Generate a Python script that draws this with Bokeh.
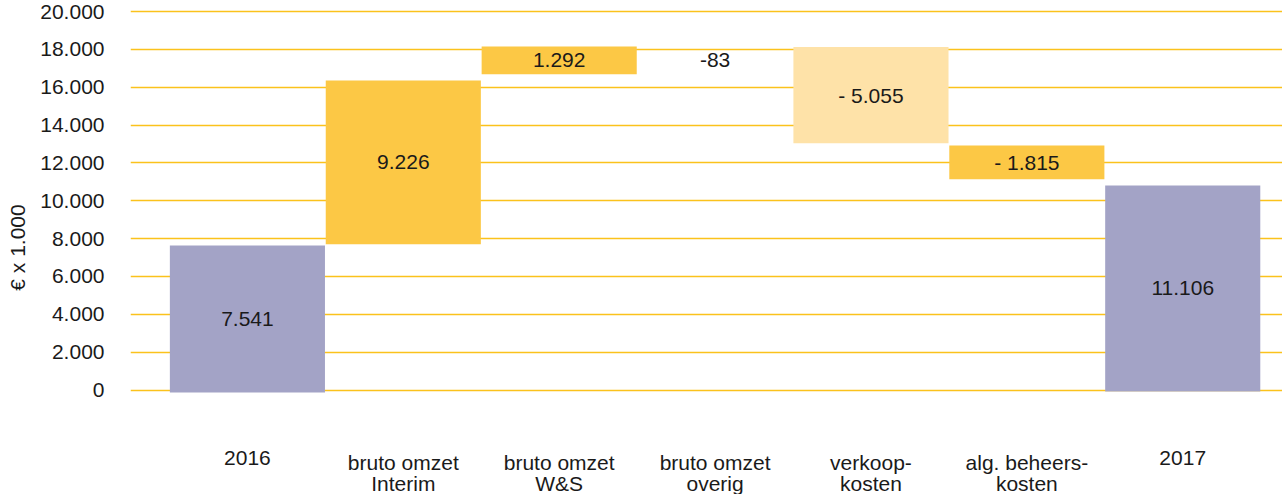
import math
from bokeh.plotting import figure
from bokeh.models import ColumnDataSource, FixedTicker, Range1d
from bokeh.core.properties import value
from bokeh.embed import file_html
from bokeh.resources import INLINE

# ---- data ----
categories = ["2016", "bruto omzet\nInterim", "bruto omzet\nW&S", "bruto omzet\noverig",
              "verkoop-\nkosten", "alg. beheers-\nkosten", "2017"]
bar_bottom = [-127, 7704, 16698, 18081, 13048, 11143, -74]
bar_top = [7635, 16365, 18164, 18164, 18127, 12926, 10810]
value_labels = ["7.541", "9.226", "1.292", "-83", "- 5.055", "- 1.815", "11.106"]
bar_colors = ["#a3a3c6", "#fcc845", "#fcc845", "#ffffff", "#fee2a8", "#fcc845", "#a3a3c6"]
bar_alpha = [1, 1, 1, 0, 1, 1, 1]
y_ticks = [0, 2000, 4000, 6000, 8000, 10000, 12000, 14000, 16000, 18000, 20000]
y_tick_labels = ["0", "2.000", "4.000", "6.000", "8.000", "10.000", "12.000",
                 "14.000", "16.000", "18.000", "20.000"]

FONT = "Liberation Sans"
xs = list(range(len(categories)))
label_y = []
for i, (b, t) in enumerate(zip(bar_bottom, bar_top)):
    if abs(t - b) < 300 and i > 0:
        label_y.append(label_y[-1])
    else:
        label_y.append((b + t) / 2)

CAT_LABEL_Y = -3200  # position of the category captions below the zero line

src = ColumnDataSource(dict(x=xs, bottom=bar_bottom, top=bar_top, color=bar_colors,
                            alpha=bar_alpha, label=value_labels, ly=label_y))
cat_src = ColumnDataSource(dict(x=xs, cat=categories, y=[CAT_LABEL_Y] * len(xs)))

p = figure(width=1282, height=494, output_backend="svg", toolbar_location=None,
           x_range=Range1d(-0.75, 6.64), y_range=Range1d(-5524, 20590))
p.min_border_left = 130
p.min_border_right = 0
p.min_border_top = 0
p.min_border_bottom = 0
p.outline_line_color = None
p.background_fill_color = "white"
p.border_fill_color = "white"

p.vbar(x="x", width=0.995, bottom="bottom", top="top", fill_color="color",
       fill_alpha="alpha", line_color=None, source=src)
p.text(x="x", y="ly", text="label", source=src, text_align="center",
       text_baseline="middle", text_font=value(FONT), text_font_size="21px",
       text_color="#1a1a1a")
p.text(x="x", y="y", text="cat", source=cat_src, text_align="center",
       text_baseline="top", text_font=value(FONT), text_font_size="21px",
       text_color="#1a1a1a", text_line_height=0.95)

# y axis
p.yaxis.ticker = FixedTicker(ticks=y_ticks)
p.yaxis.major_label_overrides = {t: l for t, l in zip(y_ticks, y_tick_labels)}
p.yaxis.axis_line_color = None
p.yaxis.major_tick_line_color = None
p.yaxis.minor_tick_line_color = None
p.yaxis.major_label_standoff = 20
p.yaxis.major_label_text_font = FONT
p.yaxis.major_label_text_font_size = "21px"
p.yaxis.major_label_text_color = "#1a1a1a"
p.yaxis.axis_label = "€ x 1.000"
p.yaxis.axis_label_text_font = FONT
p.yaxis.axis_label_text_font_size = "21px"
p.yaxis.axis_label_text_font_style = "normal"
p.yaxis.axis_label_text_color = "#1a1a1a"
p.yaxis.axis_label_standoff = 8

# x axis: captions drawn as text above; axis itself hidden
p.xaxis.visible = False

p.xgrid.grid_line_color = None
p.ygrid.grid_line_color = "#fbc21c"
p.ygrid.grid_line_width = 1.5

open("out.html", "w").write(file_html(p, INLINE))
